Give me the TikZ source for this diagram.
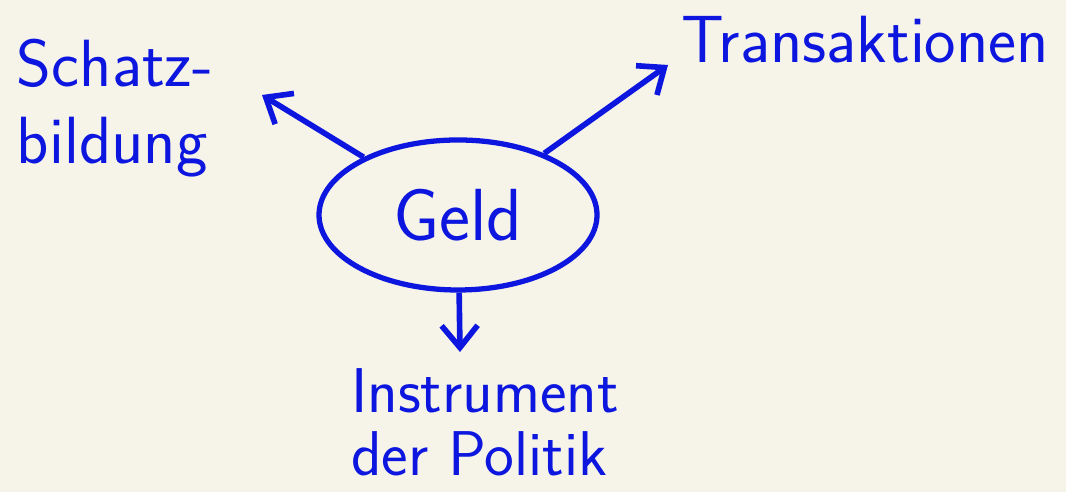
\documentclass[tikz,border=0pt]{standalone}
\usepackage{tikz}
\usetikzlibrary{arrows.meta,shapes.geometric}

\definecolor{pen}{RGB}{12,22,222}
\definecolor{paper}{RGB}{246,243,233}

\begin{document}
\begin{tikzpicture}[every node/.style={text=pen},
  txt/.style={font=\fontsize{19}{22}\selectfont\sffamily,align=left,inner sep=0pt},
  link/.style={draw=pen,line width=1.6pt,-{Straight Barb[length=2.2mm,width=3.6mm]}}]

% ( paper first, it fixes the bounding box )
\fill[paper] (0,0) rectangle (10.66,4.92);
\useasboundingbox (0,0) rectangle (10.66,4.92);

\node[draw=pen,line width=1.5pt,ellipse,minimum width=2.78cm,minimum height=1.5cm,
  font=\fontsize{21}{24}\selectfont\sffamily] (geld) at (4.58,2.77) {Geld};

\node[txt] (schatz) at (1.15,3.84) {Schatz-\\bildung};
\node[txt] (trans) at (8.65,4.52) {Transaktionen};
\node[txt,font=\fontsize{18}{18}\selectfont\sffamily] (instr) at (4.85,0.70) {Instrument\\der Politik};

\path[shape=coordinate]
(2.62,3.97) coordinate(tipS) (6.68,4.27) coordinate(tipT)
(4.60,1.40) coordinate(tipI);

\draw[link] (geld) -- (tipS);
\draw[link] (geld) -- (tipT);
\draw[link] (geld) -- (tipI);
\end{tikzpicture}
\end{document}
